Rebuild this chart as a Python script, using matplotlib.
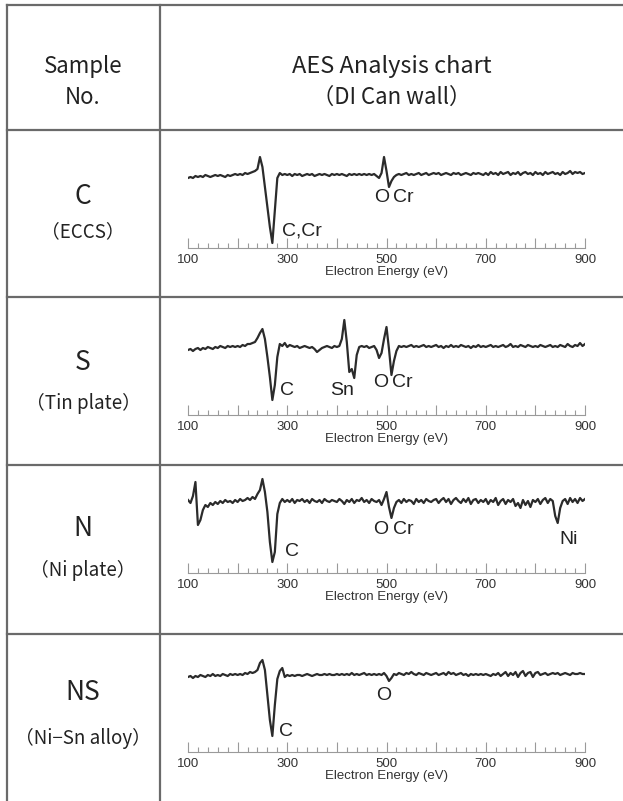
import numpy as np
import matplotlib
matplotlib.use("Agg")
import matplotlib.pyplot as plt

# energy axis (eV), one point every 5 eV
energy = np.arange(100, 901, 5)

# AES signal (arbitrary units, 0 = trace baseline)
eccs = [-3, -2, -3, -1, -2, -1, -2, 0, -1, -2, -1, 0, -1, 0, -1, -2, 0, -1, 0, 1,
        0, 1, 0, 2, 1, 2, 3, 4, 6, 18, 8, -12, -32, -52, -68, -35, -3, 2, 0, 1,
        0, 1, -1, 1, 0, 1, -1, 0, 1, 0, 1, -1, 0, 1, 0, 1, 0, -1, 1, 0,
        1, 0, 1, 0, -1, 1, 0, 1, 0, 1, 0, 1, 0, 1, 0, 1, -1, -3, 2, 18,
        4, -12, -6, -2, 0, 1, 0, 1, 2, 0, 1, 0, 1, 2, 0, 1, 2, 0, 1, 2,
        1, 2, 0, 1, 2, 1, 0, 2, 1, 2, 0, 1, 2, 1, 0, 2, 1, 2, 1, 0,
        2, 0, 3, 1, 2, 0, 3, 1, 2, 3, 0, 2, 1, 3, 0, 2, 3, 1, 2, 0,
        3, 1, 2, 0, 3, 1, 2, 3, 1, 2, 0, 3, 1, 2, 4, 1, 3, 2, 3, 1,
        2]
tin = [-3, -2, -4, -2, -1, -3, -1, -2, 0, -1, -2, 0, -1, 1, 0, -1, 1, 0, 1, 0,
       1, 0, 2, 1, 3, 3, 4, 5, 9, 14, 18, 8, -10, -30, -53, -38, -10, 3, 1, 4,
       0, 2, 1, 0, 1, -1, 0, 1, 0, -1, 0, -2, -5, -3, -1, 0, 1, 0, -1, 1,
       0, 1, 8, 27, 5, -25, -22, -31, -8, 0, 1, 0, 1, -1, 0, 1, -3, -11, -6, 8,
       20, -2, -28, -14, -4, 1, 0, 1, 0, 1, 2, 0, 1, 0, 1, 2, 0, 1, 0, 1,
       2, 0, 1, -1, 1, 0, 2, 0, 1, 0, 2, 1, 0, 1, -1, 1, 0, 2, 0, 1,
       0, 1, 2, 0, 1, 0, 1, 2, 0, 1, 3, 0, 1, 0, 2, 1, 0, 2, 1, 0,
       1, 0, 2, 1, 0, 1, 2, 0, 1, 0, 2, 1, 0, 3, 1, 0, 2, 1, 4, 1,
       3]
ni = [2, -1, 6, 20, -23, -18, -8, -3, -5, -1, -3, 0, -2, 1, -1, 2, 0, 1, -1, 2,
      0, 3, 1, 2, 4, 2, 5, 3, 8, 12, 23, 10, -10, -40, -60, -50, -12, -1, 3, 0,
      2, 0, 3, -1, 2, 1, 3, 0, 2, -1, 3, 1, 0, 2, -1, 3, 1, 0, 2, 1,
      0, 3, 1, -2, 2, 0, 3, -1, 2, 1, 4, 0, 2, -1, 3, 1, 0, 2, -3, 3,
      10, -5, -16, -6, 0, 2, -1, 3, 0, 2, 1, -2, 3, 0, 2, -1, 3, 1, 0, 2,
      3, -1, 2, 4, 0, 3, -2, 2, 4, 1, -1, 3, 0, 4, -2, 2, 3, -1, 2, 0,
      3, -2, 2, 0, 4, -3, 1, 3, -2, 2, 0, 3, -4, -1, -6, 2, -3, 1, -5, 2,
      0, 3, -2, 2, 4, -1, 3, 1, -14, -21, -6, 1, 3, -2, 4, 0, 3, -1, 4, 1,
      3]
nisn = [-2, -1, -3, -1, -2, 0, -1, -2, 0, -1, 1, -1, 0, -1, 1, 0, -1, 1, 0, 1,
        0, 1, 0, 2, 1, 3, 2, 3, 5, 12, 15, 5, -20, -45, -61, -30, -4, 4, 7, -2,
        0, -1, 0, -1, 0, 0, -1, 0, 1, 0, -1, 0, 1, 0, 0, 1, 0, 1, 0, 0,
        1, 0, 1, 0, 1, 0, 2, 0, 1, 0, 1, 2, 0, 1, 0, 1, 0, 1, 0, 2,
        -1, -6, -3, 1, 0, 2, 1, 0, 2, 1, 3, 1, 0, 2, 1, 0, 2, 1, 0, 1,
        2, 0, 1, 2, 0, 3, 1, 2, 0, 1, 2, 0, 1, -1, 1, 0, 1, 0, 1, 0,
        1, 0, -1, 1, 0, 2, -1, 1, 3, -1, 2, 0, 3, -2, 2, 4, -1, 2, 3, -2,
        2, 3, 0, 1, 2, 0, 1, 2, 1, 2, 0, 1, 2, 1, 0, 2, 1, 1, 2, 1,
        1]

samples = ["C", "S", "N", "NS"]
sample_names = ["（ECCS）", "（Tin plate）", "（Ni plate）", "（Ni−Sn alloy）"]
signals = [eccs, tin, ni, nisn]

# peak labels: (text, energy, height, alignment)
peaks = [
    [("C,Cr", 290, -56, "left"), ("O", 490, -22, "center"), ("Cr", 513, -22, "left")],
    [("C", 286, -43, "left"), ("Sn", 411, -43, "center"), ("O", 488, -35, "center"), ("Cr", 511, -35, "left")],
    [("C", 295, -50, "left"), ("O", 488, -27, "center"), ("Cr", 513, -27, "left"), ("Ni", 868, -38, "center")],
    [("C", 284, -57, "left"), ("O", 494, -20, "center")],
]

major_ticks = list(range(100, 901, 100))
tick_labels = ["100", "", "300", "", "500", "", "700", "", "900"]

W, H = 623, 801
fig = plt.figure(figsize=(W / 100, H / 100), dpi=100)
fig.patch.set_facecolor("white")

jp = ["Noto Sans CJK JP", "DejaVu Sans"]
ar = "Liberation Sans"

# table frame in pixel coordinates
bg = fig.add_axes([0, 0, 1, 1])
bg.set_xlim(0, W)
bg.set_ylim(H, 0)
bg.axis("off")
grid_c = "#6a6a6a"
bg.plot([7, W], [5, 5], color=grid_c, lw=1.6)
bg.plot([7, 7], [5, H], color=grid_c, lw=1.6)
bg.plot([160, 160], [5, H], color=grid_c, lw=1.6)
row_lines = [130, 297, 465, 634]
for yy in row_lines:
    bg.plot([7, W], [yy, yy], color=grid_c, lw=1.6)

bg.text(83, 67, "Sample", family=jp, fontsize=16, ha="center", va="center", color="#222")
bg.text(83, 97, "No.", family=jp, fontsize=16, ha="center", va="center", color="#222")
bg.text(392, 67, "AES Analysis chart", family=jp, fontsize=17, ha="center", va="center", color="#222")
bg.text(392, 97, "（DI Can wall）", family=jp, fontsize=16, ha="center", va="center", color="#222")

label_y = [(197, 232), (362, 403), (529, 570), (693, 738)]
for k in range(4):
    bg.text(83, label_y[k][0], samples[k], family=jp, fontsize=19, ha="center", va="center", color="#222")
    bg.text(83, label_y[k][1], sample_names[k], family=jp, fontsize=13.5, ha="center", va="center", color="#222")

# chart panels: trace baseline and axis line (pixels from top)
trace_base = [175, 347, 502, 675]
axis_line = [248, 415, 573, 752]
x0, x1 = 188, 585

for k in range(4):
    top = trace_base[k] - 35
    ax = fig.add_axes([x0 / W, 1 - axis_line[k] / H, (x1 - x0) / W, (axis_line[k] - top) / H])
    ax.plot(energy, signals[k], color="#2b2b2b", lw=1.6)
    ax.set_xlim(100, 900)
    ax.set_ylim(-(axis_line[k] - trace_base[k]), 35)
    ax.patch.set_alpha(0)
    for s in ["top", "left", "right"]:
        ax.spines[s].set_visible(False)
    ax.spines["bottom"].set_color("#9a9a9a")
    ax.spines["bottom"].set_linewidth(0.8)
    ax.set_yticks([])
    ax.set_xticks(major_ticks)
    ax.set_xticklabels(tick_labels, family=ar, fontsize=9.5, color="#333")
    ax.set_xticks(range(100, 901, 20), minor=True)
    ax.tick_params(axis="x", which="major", direction="in", length=7, width=0.8, color="#9a9a9a", pad=4)
    ax.tick_params(axis="x", which="minor", direction="in", length=3.5, width=0.8, color="#9a9a9a")
    ax.set_xlabel("Electron Energy (eV)", family=ar, fontsize=9.5, color="#333", labelpad=0)
    for txt, e, h, ha in peaks[k]:
        ax.text(e, h, txt, family=ar, fontsize=14, ha=ha, va="center", color="#222")

plt.savefig("out.png", dpi=100)
